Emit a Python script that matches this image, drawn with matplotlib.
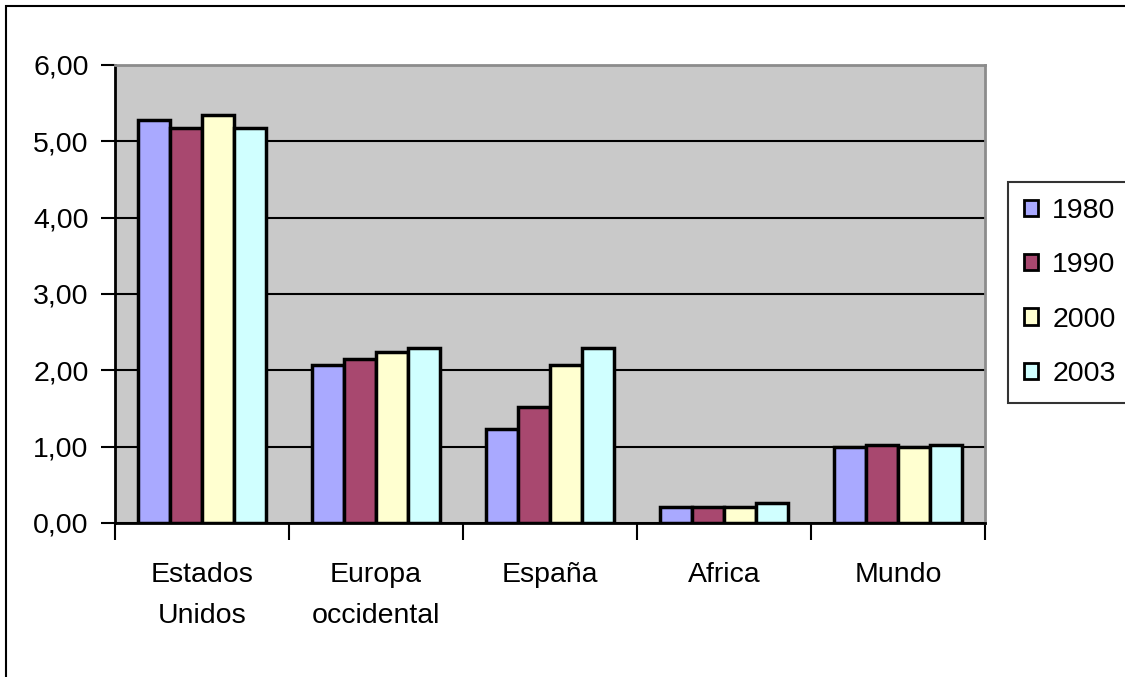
import numpy as np
import matplotlib
matplotlib.use("Agg")
from matplotlib import pyplot as plt
from matplotlib.patches import Rectangle
from matplotlib.ticker import FuncFormatter

plt.rcParams["font.family"] = ["Liberation Sans", "DejaVu Sans"]

categories = ["Estados\nUnidos", "Europa\noccidental", "España", "Africa", "Mundo"]
years = ["1980", "1990", "2000", "2003"]
v1980 = [5.28, 2.07, 1.23, 0.21, 1.00]
v1990 = [5.17, 2.15, 1.52, 0.21, 1.02]
v2000 = [5.34, 2.24, 2.07, 0.21, 1.00]
v2003 = [5.17, 2.29, 2.29, 0.26, 1.02]
colors = ["#a9a9ff", "#a8486f", "#ffffd0", "#d0ffff"]

FS = 20.5

fig = plt.figure(figsize=(11.25, 6.77), dpi=100)
ax = fig.add_axes([0.1022, 0.2275, 0.7733, 0.6765])
ax.set_facecolor("#c9c9c9")

x = np.arange(len(categories))
w = 0.184
for i, (vals, c, lab) in enumerate(zip([v1980, v1990, v2000, v2003], colors, years)):
    ax.bar(x + (i - 1.5) * w, vals, w, color=c, edgecolor="black", linewidth=2.5,
           label=lab, zorder=2)

ax.set_xlim(-0.5, len(categories) - 0.5)
ax.set_ylim(0, 6)
ax.set_yticks(np.arange(0, 7, 1))
ax.yaxis.set_major_formatter(FuncFormatter(lambda v, p: f"{v:.2f}".replace(".", ",")))
ax.set_axisbelow(True)
ax.yaxis.grid(True, color="black", linewidth=1.5)

# category labels sit between the boundary ticks
ax.set_xticks(np.arange(-0.5, len(categories), 1))
ax.set_xticklabels([])
ax.set_xticks(x, minor=True)
ax.set_xticklabels(categories, minor=True, fontsize=FS, linespacing=1.75)
ax.tick_params(axis="x", which="minor", length=0, pad=28)
ax.tick_params(axis="x", which="major", length=12, width=1.5, direction="out")
ax.tick_params(axis="y", length=10, width=1.5, pad=9, labelsize=FS)

for s in ["left", "bottom"]:
    ax.spines[s].set_color("black")
    ax.spines[s].set_linewidth(2)
for s in ["top", "right"]:
    ax.spines[s].set_color("#8c8c8c")
    ax.spines[s].set_linewidth(2)

leg = fig.legend(loc="center left", bbox_to_anchor=(0.896, 0.568), fontsize=FS,
                 frameon=True, fancybox=False, edgecolor="black", labelspacing=1.0,
                 handlelength=0.5, handleheight=0.5, handletextpad=0.5,
                 borderpad=0.55, borderaxespad=0)
leg.get_frame().set_linewidth(1.5)
for h in leg.legend_handles:
    h.set_linewidth(2)

# outer chart border
fig.patches.append(Rectangle((6 / 1125, -0.1), 1.2, 1 - 6 / 677 + 0.1,
                             transform=fig.transFigure, fill=False,
                             edgecolor="black", linewidth=1.5))

fig.savefig("out.png", dpi=100)
